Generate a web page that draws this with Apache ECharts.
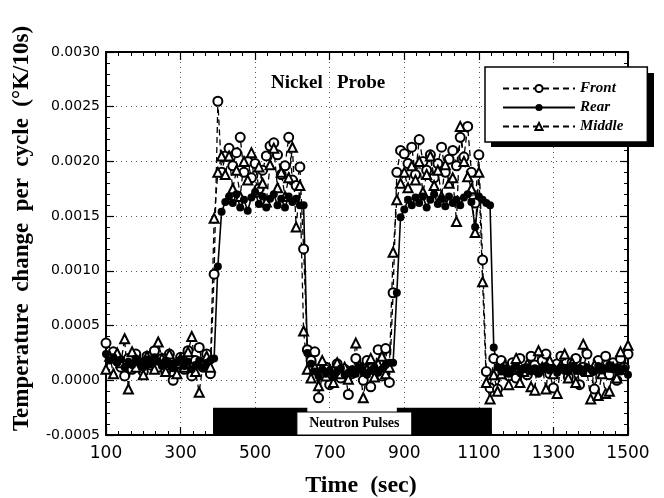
<!DOCTYPE html>
<html>
<head>
<meta charset="utf-8">
<script src="https://cdn.jsdelivr.net/npm/echarts@6/dist/echarts.min.js"></script>
<style>
  html, body { margin: 0; padding: 0; background: #fff; }
  #chart { width: 664px; height: 498px; }
</style>
</head>
<body>
<div id="chart"></div>
<script>
// Sample times, one measurement per 10 s cycle
const timeSec = [
  100, 110, 120, 130, 140, 150, 160, 170, 180, 190,
  200, 210, 220, 230, 240, 250, 260, 270, 280, 290,
  300, 310, 320, 330, 340, 350, 360, 370, 380, 390,
  400, 410, 420, 430, 440, 450, 460, 470, 480, 490,
  500, 510, 520, 530, 540, 550, 560, 570, 580, 590,
  600, 610, 620, 630, 640, 650, 660, 670, 680, 690,
  700, 710, 720, 730, 740, 750, 760, 770, 780, 790,
  800, 810, 820, 830, 840, 850, 860, 870, 880, 890,
  900, 910, 920, 930, 940, 950, 960, 970, 980, 990,
  1000, 1010, 1020, 1030, 1040, 1050, 1060, 1070, 1080, 1090,
  1100, 1110, 1120, 1130, 1140, 1150, 1160, 1170, 1180, 1190,
  1200, 1210, 1220, 1230, 1240, 1250, 1260, 1270, 1280, 1290,
  1300, 1310, 1320, 1330, 1340, 1350, 1360, 1370, 1380, 1390,
  1400, 1410, 1420, 1430, 1440, 1450, 1460, 1470, 1480, 1490,
  1500
];

const frontVals = [
  0.00034, 0.00022, 0.00026, 0.00018, 0.00012, 0.00004, 0.00020, 0.00010, 0.00024, 0.00016,
  0.00008, 0.00022, 0.00014, 0.00027, 0.00012, 0.00020, 0.00008, 0.00024, 0.00000, 0.00015,
  0.00021, 0.00010, 0.00027, 0.00004, 0.00018, 0.00030, 0.00012, 0.00024, 0.00006, 0.00097,
  0.00255, 0.00190, 0.00205, 0.00212, 0.00196, 0.00208, 0.00222, 0.00190, 0.00200, 0.00185,
  0.00198, 0.00175, 0.00192, 0.00205, 0.00214, 0.00217, 0.00206, 0.00188, 0.00196, 0.00222,
  0.00183, 0.00178, 0.00195, 0.00120, 0.00028, 0.00018, 0.00026, -0.00016, 0.00005, 0.00012,
  -0.00004, 0.00008, 0.00015, 0.00002, 0.00010, -0.00013, 0.00006, 0.00020, 0.00012, 0.00000,
  0.00018, -0.00006, 0.00010, 0.00028, 0.00004, 0.00029, -0.00002, 0.00080, 0.00190, 0.00210,
  0.00207, 0.00198, 0.00213, 0.00188, 0.00220, 0.00200, 0.00192, 0.00206, 0.00185, 0.00198,
  0.00213, 0.00190, 0.00202, 0.00210, 0.00196, 0.00222, 0.00204, 0.00232, 0.00190, 0.00162,
  0.00206, 0.00110, 0.00008, -0.00007, 0.00020, -0.00008, 0.00018, 0.00012, 0.00004, 0.00016,
  0.00002, 0.00020, 0.00010, 0.00005, 0.00022, 0.00014, 0.00008, 0.00018, 0.00024, 0.00006,
  -0.00007, 0.00015, 0.00022, 0.00010, 0.00003, 0.00016, 0.00020, -0.00004, 0.00012, 0.00024,
  0.00008, -0.00008, 0.00018, 0.00010, 0.00022, 0.00005, 0.00016, 0.00000, 0.00020, 0.00012,
  0.00024
];

const rearVals = [
  0.00024, 0.00018, 0.00021, 0.00016, 0.00019, 0.00012, 0.00017, 0.00014, 0.00020, 0.00016,
  0.00012, 0.00019, 0.00015, 0.00021, 0.00017, 0.00013, 0.00018, 0.00015, 0.00011, 0.00016,
  0.00019, 0.00013, 0.00017, 0.00010, 0.00014, 0.00018, 0.00012, 0.00016, 0.00018, 0.00020,
  0.00104, 0.00154, 0.00163, 0.00168, 0.00162, 0.00170, 0.00158, 0.00165, 0.00155, 0.00167,
  0.00172, 0.00161, 0.00168, 0.00158, 0.00166, 0.00170, 0.00160, 0.00166, 0.00158, 0.00168,
  0.00163, 0.00166, 0.00160, 0.00160, 0.00025, 0.00015, 0.00008, 0.00004, 0.00010, 0.00006,
  0.00009, 0.00003, 0.00008, 0.00011, 0.00005, 0.00007, 0.00010, 0.00006, 0.00012, 0.00008,
  0.00005, 0.00009, 0.00012, 0.00007, 0.00010, 0.00014, 0.00016, 0.00016, 0.00080, 0.00149,
  0.00156, 0.00165, 0.00160, 0.00167, 0.00162, 0.00168, 0.00158, 0.00165, 0.00170, 0.00161,
  0.00166, 0.00159, 0.00168, 0.00162, 0.00165, 0.00160, 0.00167, 0.00170, 0.00163, 0.00140,
  0.00168, 0.00165, 0.00162, 0.00160, 0.00030, 0.00012, 0.00008, 0.00011, 0.00006, 0.00010,
  0.00013, 0.00007, 0.00010, 0.00012, 0.00008, 0.00011, 0.00006, 0.00010, 0.00013, 0.00009,
  0.00011, 0.00007, 0.00012, 0.00010, 0.00008, 0.00013, 0.00009, 0.00011, 0.00007, 0.00012,
  0.00010, 0.00008, 0.00013, 0.00009, 0.00011, 0.00014, 0.00010, 0.00012, 0.00008, 0.00011,
  0.00005
];

const middleVals = [
  0.00010, 0.00022, 0.00006, 0.00025, 0.00016, 0.00038, -0.00008, 0.00026, 0.00012, 0.00018,
  0.00005, 0.00022, 0.00016, 0.00010, 0.00035, 0.00020, 0.00008, 0.00024, 0.00014, 0.00006,
  0.00020, 0.00012, 0.00026, 0.00040, 0.00008, -0.00011, 0.00015, 0.00022, 0.00012, 0.00148,
  0.00190, 0.00205, 0.00188, 0.00205, 0.00175, 0.00192, 0.00168, 0.00200, 0.00183, 0.00208,
  0.00172, 0.00195, 0.00180, 0.00163, 0.00197, 0.00212, 0.00176, 0.00190, 0.00168, 0.00185,
  0.00213, 0.00140, 0.00178, 0.00045, 0.00010, 0.00002, 0.00012, -0.00005, 0.00018, 0.00004,
  0.00010, -0.00002, 0.00016, 0.00006, 0.00012, 0.00001, 0.00008, 0.00034, 0.00014, -0.00016,
  0.00010, 0.00020, 0.00003, 0.00015, 0.00022, 0.00006, 0.00012, 0.00117, 0.00165, 0.00180,
  0.00190, 0.00176, 0.00196, 0.00183, 0.00200, 0.00172, 0.00188, 0.00205, 0.00178, 0.00192,
  0.00168, 0.00197, 0.00180, 0.00185, 0.00145, 0.00232, 0.00200, 0.00186, 0.00175, 0.00135,
  0.00190, 0.00090, -0.00002, -0.00017, 0.00005, -0.00010, 0.00006, 0.00014, -0.00004, 0.00010,
  0.00020, -0.00002, 0.00008, 0.00015, -0.00006, -0.00009, 0.00027, 0.00012, -0.00008, 0.00018,
  0.00006, -0.00012, 0.00014, 0.00024, 0.00002, 0.00016, -0.00002, 0.00010, 0.00033, 0.00008,
  -0.00017, 0.00014, -0.00014, 0.00006, -0.00012, -0.00010, 0.00012, 0.00002, 0.00026, 0.00010,
  0.00032
];

// Neutron pulse periods (sec) and the label patch laid over the gap
const pulseSpans = [[387, 640], [880, 1135]];
const pulseTop = -0.00025;
const pulseLabelSpan = [612, 920];
const pulseLabelTop = -0.00029;

const X_MIN = 100, X_MAX = 1500, X_STEP = 200;
const Y_MIN = -0.0005, Y_MAX = 0.003, Y_STEP = 0.0005;

const serif = '"Liberation Serif", "DejaVu Serif", serif';
const sans = '"DejaVu Sans", "Liberation Sans", sans-serif';

const toPairs = vals => timeSec.map((t, i) => [t, vals[i]]);

const chart = echarts.init(document.getElementById('chart'), null, { renderer: 'canvas' });

const axisCommon = {
  type: 'value',
  axisLine: { show: true, onZero: false, lineStyle: { color: '#000', width: 2 } },
  axisTick: { show: true, inside: true, length: 8, lineStyle: { color: '#000', width: 1.2 } },
  minorTick: { show: true, length: 4, lineStyle: { color: '#000', width: 1 } },
};

chart.setOption({
  animation: false,
  backgroundColor: '#fff',
  title: {
    text: 'Nickel   Probe',
    left: 266,
    top: 69,
    textStyle: { fontFamily: serif, fontWeight: 'bold', fontSize: 19, color: '#000' },
  },
  // drop shadow of the legend box (thick right and bottom edges)
  graphic: [{
    type: 'rect',
    left: 491, top: 73, z: 3, silent: true,
    shape: { width: 163, height: 74 },
    style: { fill: '#000' },
  }],
  legend: {
    data: ['Front', 'Rear', 'Middle'],
    orient: 'vertical',
    left: 485,
    top: 67,
    padding: [14, 24, 8, 17],
    itemWidth: 72,
    itemHeight: 9,
    itemGap: 4,
    z: 5,
    backgroundColor: '#fff',
    borderColor: '#000',
    borderWidth: 1.5,
    textStyle: { fontFamily: serif, fontWeight: 'bold', fontStyle: 'italic', fontSize: 15, color: '#000' },
  },
  grid: { left: 106, right: 36, top: 52, bottom: 63, outerBoundsMode: 'none' },
  xAxis: [
    {
      ...axisCommon,
      position: 'bottom',
      min: X_MIN, max: X_MAX, interval: X_STEP,
      minorTick: { ...axisCommon.minorTick, splitNumber: 6 },
      axisLabel: { fontFamily: sans, fontSize: 17, color: '#000', margin: 10, formatter: v => String(v) },
      splitLine: { show: true, lineStyle: { color: '#555', type: [1, 4], width: 1 } },
      name: 'Time  (sec)',
      nameLocation: 'middle',
      nameGap: 39,
      nameTextStyle: { fontFamily: serif, fontWeight: 'bold', fontSize: 24, color: '#000', padding: [0, 12, 0, 0] },
    },
    {
      ...axisCommon,
      position: 'top',
      min: X_MIN, max: X_MAX, interval: X_STEP,
      minorTick: { ...axisCommon.minorTick, splitNumber: 6 },
      axisLabel: { show: false },
      splitLine: { show: false },
    },
  ],
  yAxis: [
    {
      ...axisCommon,
      position: 'left',
      min: Y_MIN, max: Y_MAX, interval: Y_STEP,
      minorTick: { ...axisCommon.minorTick, splitNumber: 5 },
      axisLabel: { fontFamily: sans, fontSize: 14, color: '#000', margin: 6, formatter: v => v.toFixed(4) },
      splitLine: { show: true, lineStyle: { color: '#555', type: [1, 4], width: 1 } },
      name: 'Temperature  change  per  cycle  (°K/10s)',
      nameLocation: 'middle',
      nameGap: 72,
      nameTextStyle: { fontFamily: serif, fontWeight: 'bold', fontSize: 23, color: '#000', padding: [0, 0, 0, 30] },
    },
    {
      ...axisCommon,
      position: 'right',
      min: Y_MIN, max: Y_MAX, interval: Y_STEP,
      minorTick: { ...axisCommon.minorTick, splitNumber: 5 },
      axisLabel: { show: false },
      splitLine: { show: false },
    },
  ],
  series: [
    {
      name: 'pulses',
      type: 'line',
      data: [],
      silent: true,
      markArea: {
        silent: true,
        itemStyle: { color: '#000' },
        data: pulseSpans.map(s => [{ xAxis: s[0], yAxis: Y_MIN }, { xAxis: s[1], yAxis: pulseTop }]),
      },
    },
    {
      name: 'pulseLabel',
      type: 'line',
      data: [],
      silent: true,
      markArea: {
        silent: true,
        itemStyle: { color: '#fff', borderColor: '#000', borderWidth: 1 },
        label: {
          show: true, position: 'inside', color: '#000',
          fontFamily: serif, fontWeight: 'bold', fontSize: 14,
        },
        data: [[
          { name: 'Neutron Pulses', xAxis: pulseLabelSpan[0], yAxis: Y_MIN },
          { xAxis: pulseLabelSpan[1], yAxis: pulseLabelTop },
        ]],
      },
    },
    {
      name: 'Front',
      type: 'line',
      data: toPairs(frontVals),
      symbol: 'emptyCircle',
      symbolSize: 9,
      itemStyle: { color: '#000', borderWidth: 1.3 },
      lineStyle: { color: '#000', width: 1.3, type: [6, 4] },
    },
    {
      name: 'Middle',
      type: 'line',
      data: toPairs(middleVals),
      symbol: 'emptyTriangle',
      symbolSize: 9,
      itemStyle: { color: '#000', borderWidth: 1.3 },
      lineStyle: { color: '#000', width: 1.3, type: [6, 4] },
    },
    {
      name: 'Rear',
      type: 'line',
      data: toPairs(rearVals),
      symbol: 'circle',
      symbolSize: 8,
      itemStyle: { color: '#000' },
      lineStyle: { color: '#000', width: 1.6 },
    },
  ],
});
</script>
</body>
</html>
